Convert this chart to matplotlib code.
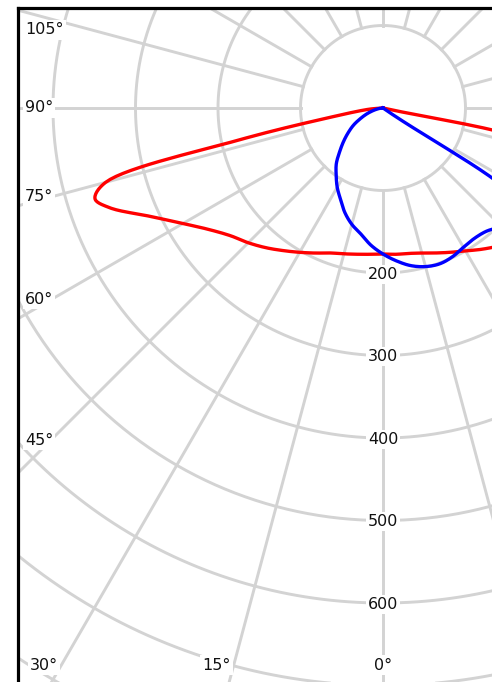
import numpy as np
import matplotlib.pyplot as plt

# polar light distribution, angles from nadir (deg), intensity (cd)
angles_c0 = [0, 5, 10, 15, 20, 25, 30, 35, 40, 45, 50, 55, 60, 65, 70, 75, 77.5, 80, 85, 90]
red_c0 = [177, 178, 179, 182, 187, 193, 200, 209, 218, 225, 230, 232, 228, 218, 200, 180, 165, 0, 0, 0]

angles_c180 = [0, 5, 10, 15, 20, 25, 30, 35, 40, 45, 50, 55, 60, 65, 70, 72.5, 75, 77.5, 80, 85, 90]
red_c180 = [177, 178, 180, 183, 187, 194, 202, 211, 221, 231, 241, 257, 280, 311, 353, 366, 348, 178, 65, 17, 0]

angles_c90 = [0, 5, 10, 15, 20, 25, 30, 35, 40, 45, 50, 55, 60, 65, 70, 75, 80, 85, 90]
blue_c90 = [177, 186, 194, 199, 201, 199, 195, 193, 195, 203, 210, 200, 0, 0, 0, 0, 0, 0, 0]

angles_c270 = [0, 5, 10, 15, 20, 25, 30, 35, 40, 45, 50, 55, 60, 65, 70, 75, 80, 85, 90]
blue_c270 = [177, 167, 155, 146, 135, 122, 111, 99, 88, 74, 62, 51, 41, 30, 21, 13, 7, 3, 0]

rings = [100, 200, 300, 400, 500, 600, 700, 800]
ring_labels = [200, 300, 400, 500, 600]
spoke_step = 15
label_angles = [0, 15, 30, 45, 60, 75, 90, 105]

# pixel geometry of the frame
W, H = 492, 682
px_per_cd = 0.825
cx, cy = 383, 108
left_px, top_px = 18, 8

fig = plt.figure(figsize=(W / 100, H / 100), dpi=100)
ax = fig.add_axes([left_px / W, 0, (W - left_px) / W, (H - top_px) / H])
x0 = (left_px - cx) / px_per_cd
x1 = (W - cx) / px_per_cd
y0 = (cy - H) / px_per_cd
y1 = (cy - top_px) / px_per_cd
ax.set_xlim(x0, x1)
ax.set_ylim(y0, y1)
ax.set_xticks([])
ax.set_yticks([])
for s in ['right', 'bottom']:
    ax.spines[s].set_visible(False)
for s in ['left', 'top']:
    ax.spines[s].set_linewidth(2.3)
    ax.spines[s].set_color('black')

grid_c = '#d3d3d3'
t = np.linspace(0, 2 * np.pi, 721)
for r in rings:
    ax.plot(r * np.cos(t), r * np.sin(t), color=grid_c, lw=2.1, zorder=1)
for a in range(0, 360, spoke_step):
    g = np.radians(a)
    ax.plot([-100 * np.sin(g), -1200 * np.sin(g)], [-100 * np.cos(g), -1200 * np.cos(g)],
            color=grid_c, lw=2.1, zorder=1)


def smooth(pts, n=16):
    # centripetal catmull-rom through the measured points
    keep = np.r_[True, np.any(np.abs(np.diff(pts, axis=0)) > 1e-9, axis=1)]
    pts = pts[keep]
    p = np.vstack([2 * pts[0] - pts[1], pts, 2 * pts[-1] - pts[-2]])
    out = [pts[:1]]
    for i in range(1, len(p) - 2):
        p0, p1, p2, p3 = p[i - 1], p[i], p[i + 1], p[i + 2]
        t0 = 0.0
        t1 = t0 + np.linalg.norm(p1 - p0) ** 0.5
        t2 = t1 + np.linalg.norm(p2 - p1) ** 0.5
        t3 = t2 + np.linalg.norm(p3 - p2) ** 0.5
        tt = np.linspace(t1, t2, n)[1:, None]
        a1 = (t1 - tt) / (t1 - t0) * p0 + (tt - t0) / (t1 - t0) * p1
        a2 = (t2 - tt) / (t2 - t1) * p1 + (tt - t1) / (t2 - t1) * p2
        a3 = (t3 - tt) / (t3 - t2) * p2 + (tt - t2) / (t3 - t2) * p3
        b1 = (t2 - tt) / (t2 - t0) * a1 + (tt - t0) / (t2 - t0) * a2
        b2 = (t3 - tt) / (t3 - t1) * a2 + (tt - t1) / (t3 - t1) * a3
        out.append((t2 - tt) / (t2 - t1) * b1 + (tt - t1) / (t2 - t1) * b2)
    return np.vstack(out)


def curve(ang_right, val_right, ang_left, val_left):
    gl = np.radians(np.array(ang_left))[::-1]
    vl = np.array(val_left, dtype=float)[::-1]
    gr = np.radians(np.array(ang_right))
    vr = np.array(val_right, dtype=float)
    x = np.concatenate([-vl * np.sin(gl), vr * np.sin(gr)])
    y = np.concatenate([-vl * np.cos(gl), -vr * np.cos(gr)])
    s = smooth(np.column_stack([x, y]))
    return s[:, 0], s[:, 1]


x, y = curve(angles_c0, red_c0, angles_c180, red_c180)
ax.plot(x, y, color='#ff0000', lw=2.4, zorder=3, solid_joinstyle='round')
x, y = curve(angles_c90, blue_c90, angles_c270, blue_c270)
ax.plot(x, y, color='#0000ff', lw=2.4, zorder=3, solid_joinstyle='round')

box = dict(facecolor='white', edgecolor='none', pad=1.5)
fs = 11.5
for r in ring_labels:
    ax.text(0, -r - 1.5, str(r), ha='center', va='center', fontsize=fs, color='#111111',
            bbox=box, zorder=4)

# angle labels where the spokes leave the frame
pad = 7 / px_per_cd
for a in label_angles:
    g = np.radians(a)
    if a > 0 and x0 / np.tan(g) > y0:
        # left edge
        xa = (51 - cx) / px_per_cd
        ya = xa / np.tan(g)
        ya = min(ya, (cy - 30) / px_per_cd)
        ax.text(x0 + pad, ya, str(a) + '°', ha='left', va='center', fontsize=fs,
                color='#111111', bbox=box, zorder=4)
    else:
        yb = (cy - 665) / px_per_cd
        xb = yb * np.tan(g)
        if a == 0:
            ax.text(xb, yb, str(a) + '°', ha='center', va='center', fontsize=fs,
                    color='#111111', bbox=box, zorder=4)
        else:
            ax.text(xb - 3 / px_per_cd, yb, str(a) + '°', ha='right', va='center', fontsize=fs,
                    color='#111111', bbox=box, zorder=4)

fig.savefig('out.png', dpi=100)
